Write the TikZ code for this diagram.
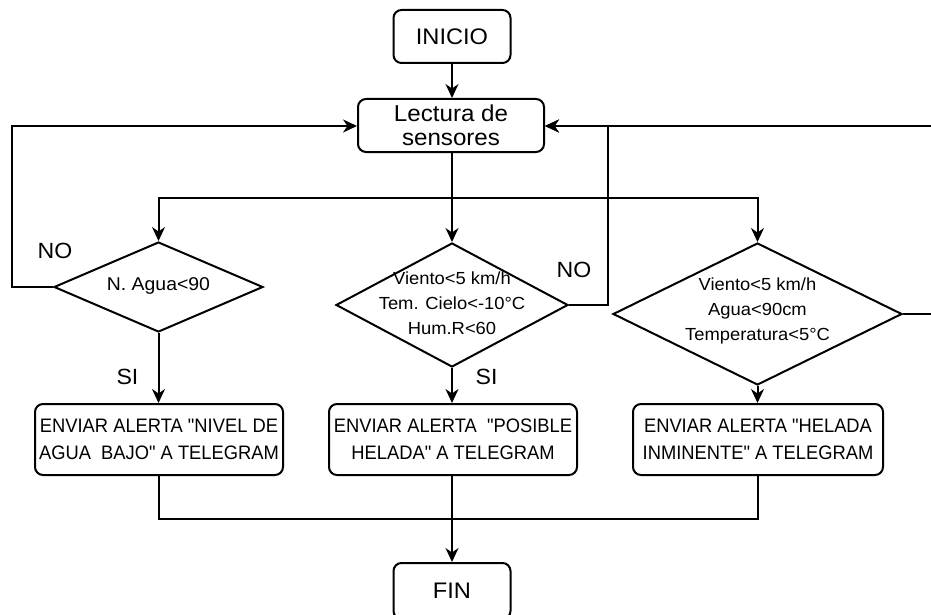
\documentclass[tikz,border=0pt]{standalone}
\usepackage{fontspec}
\setmainfont{Liberation Sans}[FakeStretch=1.05]
\newfontfamily\boxfont{Liberation Sans}[FakeStretch=0.94]
\usetikzlibrary{shapes.geometric,arrows.meta}

\tikzset{
  line/.style={draw=black, line width=2pt},
  arr/.style={line, -{Stealth[length=14pt,width=13pt,inset=4.5pt]}},
  term/.style={line, rectangle, rounded corners=8pt, inner sep=0pt,
    minimum width=117pt, minimum height=53pt, font=\fontsize{22.5}{26}\selectfont},
  proc/.style={line, rectangle, rounded corners=8pt, inner sep=0pt, align=center,
    minimum width=186pt, minimum height=53pt, font=\fontsize{23}{23.5}\selectfont},
  dec/.style={line, diamond, inner sep=0pt},
  dectext/.style={align=center, inner sep=0pt, font=\fontsize{17.5}{25}\selectfont},
  alert/.style={line, rectangle, rounded corners=8pt, inner sep=0pt, align=center,
    minimum width=248pt, minimum height=71pt, font=\boxfont\fontsize{19.5}{27}\selectfont},
  lbl/.style={inner sep=0pt, font=\fontsize{22}{26}\selectfont},
}

\begin{document}
\begin{tikzpicture}[x=1pt, y=-1pt]
  \useasboundingbox (0,0) rectangle (931,615);
  \clip (0,0) rectangle (931,615);

  % start and sensor reading
  \node[term] (inicio) at (452,36.5) {INICIO};
  \node[proc] (lectura) at (451,125.5) {Lectura de\\sensores};

  % decisions
  \node[dec, minimum width=209pt, minimum height=90pt] (d1) at (158.5,287) {};
  \node[dectext, font=\fontsize{18.5}{25}\selectfont] (t1) at (158.5,286) {N. Agua<90};
  \node[dec, minimum width=232pt, minimum height=124pt] (d2) at (452,305) {};
  \node[dectext] (t2) at (452,303) {Viento<5 km/h\\Tem. Cielo<-10°C\\Hum.R<60};
  \node[dec, minimum width=289pt, minimum height=142pt] (d3) at (757.5,314) {};
  \node[dectext] (t3) at (757.5,311) {Viento<5 km/h\\Agua<90cm\\Temperatura<5°C};

  % alerts
  \node[alert] (a1) at (159,439.5) {ENVIAR ALERTA "NIVEL DE\\AGUA\ \ BAJO" A TELEGRAM};
  \node[alert] (a2) at (453,439.5) {ENVIAR ALERTA\ \ "POSIBLE\\HELADA" A TELEGRAM};
  \node[alert, minimum width=250pt] (a3) at (758,439.5) {ENVIAR ALERTA "HELADA\\INMINENTE" A TELEGRAM};

  % end
  \node[term, minimum height=56pt] (fin) at (452,591) {FIN};

  % routing points
  \coordinate (bus) at (452,198);
  \coordinate (loopL) at (12,126);
  \coordinate (loopM) at (608,126);
  \coordinate (loopR) at (950,126);
  \coordinate (join) at (452,519);

  % flow
  \draw[arr] (inicio.south -| bus) -- (lectura.north -| bus);
  \draw[line] (lectura.south -| bus) -- (bus);
  \draw[arr] (bus) -| (d1.north);
  \draw[arr] (bus) -| (d3.north);
  \draw[arr] (bus) -- (d2.north -| bus);

  \draw[arr] (d1.west) -| (loopL) -- (lectura.west |- loopL);
  \draw[arr] (d2.east) -| (loopM) -- (lectura.east |- loopM);
  \draw[arr] (d3.east) -| (loopR) -- (lectura.east |- loopR);

  \draw[arr] (d1.south) -- (a1.north -| d1.south);
  \draw[arr] (d2.south -| bus) -- (a2.north -| bus);
  \draw[arr] (d3.south) -- (a3.north -| d3.south);

  \draw[line] (a1.south -| d1.south) |- (join) -| (a3.south -| d3.south);
  \draw[arr] (a2.south -| bus) -- (fin.north -| bus);

  % branch labels
  \node[lbl] (no1) at (55,251) {NO};
  \node[lbl] (no2) at (574,270) {NO};
  \node[lbl] (si1) at (127.5,377) {SI};
  \node[lbl] (si2) at (486.5,377) {SI};
\end{tikzpicture}
\end{document}
